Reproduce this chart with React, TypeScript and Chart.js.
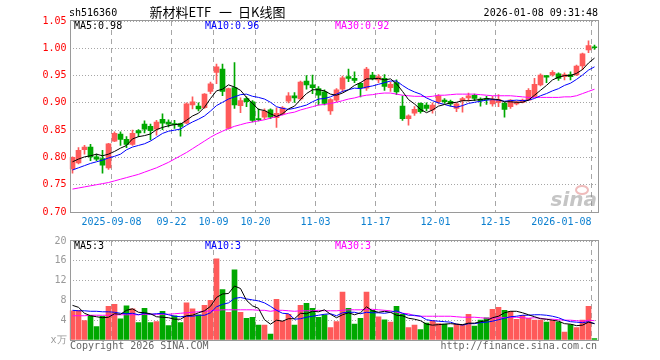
import React, { useEffect, useRef } from "react";
import { Chart, registerables } from "chart.js";

Chart.register(...registerables);

const dates: string[] = [
  "2025-08-28","2025-08-29","2025-09-01","2025-09-02","2025-09-03","2025-09-04","2025-09-05","2025-09-08","2025-09-09","2025-09-10",
  "2025-09-11","2025-09-12","2025-09-15","2025-09-16","2025-09-17","2025-09-18","2025-09-19","2025-09-22","2025-09-23","2025-09-24",
  "2025-09-25","2025-09-26","2025-09-29","2025-09-30","2025-10-09","2025-10-10","2025-10-13","2025-10-14","2025-10-15","2025-10-16",
  "2025-10-17","2025-10-20","2025-10-21","2025-10-22","2025-10-23","2025-10-24","2025-10-27","2025-10-28","2025-10-29","2025-10-30",
  "2025-10-31","2025-11-03","2025-11-04","2025-11-05","2025-11-06","2025-11-07","2025-11-10","2025-11-11","2025-11-12","2025-11-13",
  "2025-11-14","2025-11-17","2025-11-18","2025-11-19","2025-11-20","2025-11-21","2025-11-24","2025-11-25","2025-11-26","2025-11-27",
  "2025-11-28","2025-12-01","2025-12-02","2025-12-03","2025-12-04","2025-12-05","2025-12-08","2025-12-09","2025-12-10","2025-12-11",
  "2025-12-12","2025-12-15","2025-12-16","2025-12-17","2025-12-18","2025-12-19","2025-12-22","2025-12-23","2025-12-24","2025-12-25",
  "2025-12-26","2025-12-29","2025-12-30","2025-12-31","2026-01-05","2026-01-06","2026-01-07","2026-01-08",
];

const tickDates: string[] = ["2025-09-08","2025-09-22","2025-10-09","2025-10-20","2025-11-03","2025-11-17","2025-12-01","2025-12-15","2026-01-08"];
const tickLabels: string[] = ["2025-09-08","09-22","10-09","10-20","11-03","11-17","12-01","12-15","2026-01-08"];

const openP: number[] = [
  0.779,0.790,0.814,0.819,0.801,0.798,0.781,0.830,0.843,0.833,
  0.824,0.849,0.861,0.857,0.852,0.870,0.865,0.862,0.862,0.863,
  0.896,0.894,0.891,0.921,0.956,0.962,0.853,0.928,0.895,0.908,
  0.902,0.871,0.874,0.887,0.873,0.880,0.903,0.913,0.907,0.940,
  0.933,0.926,0.920,0.885,0.905,0.925,0.948,0.945,0.936,0.927,
  0.951,0.942,0.945,0.928,0.937,0.894,0.871,0.881,0.899,0.896,
  0.887,0.902,0.905,0.903,0.890,0.904,0.909,0.914,0.907,0.908,
  0.898,0.901,0.899,0.893,0.898,0.901,0.905,0.912,0.933,0.950,
  0.951,0.953,0.948,0.952,0.951,0.9675,0.997,1.002,
];
const highP: number[] = [
  0.801,0.818,0.822,0.824,0.806,0.813,0.826,0.847,0.847,0.838,
  0.850,0.851,0.867,0.861,0.868,0.880,0.869,0.868,0.863,0.900,
  0.911,0.900,0.917,0.938,0.971,0.971,0.927,0.974,0.909,0.911,
  0.904,0.889,0.889,0.889,0.891,0.893,0.919,0.919,0.940,0.950,
  0.951,0.930,0.924,0.908,0.926,0.949,0.962,0.957,0.937,0.965,
  0.956,0.952,0.952,0.938,0.942,0.913,0.878,0.893,0.900,0.900,
  0.900,0.915,0.908,0.905,0.900,0.910,0.918,0.916,0.909,0.912,
  0.912,0.915,0.901,0.906,0.903,0.907,0.926,0.945,0.953,0.950,
  0.959,0.955,0.955,0.957,0.969,0.991,1.0135,1.006,
];
const lowP: number[] = [
  0.771,0.788,0.806,0.794,0.794,0.771,0.778,0.829,0.822,0.818,
  0.822,0.838,0.845,0.832,0.841,0.851,0.856,0.853,0.839,0.862,
  0.889,0.885,0.890,0.917,0.935,0.913,0.852,0.890,0.882,0.893,
  0.865,0.867,0.870,0.871,0.855,0.878,0.900,0.901,0.905,0.925,
  0.917,0.896,0.896,0.879,0.902,0.920,0.939,0.937,0.911,0.923,
  0.942,0.937,0.923,0.921,0.915,0.868,0.859,0.877,0.881,0.885,
  0.881,0.898,0.899,0.894,0.884,0.883,0.903,0.904,0.894,0.897,
  0.894,0.893,0.874,0.890,0.896,0.900,0.904,0.911,0.931,0.937,
  0.949,0.941,0.942,0.942,0.950,0.961,0.992,0.998,
];
const closeP: number[] = [
  0.800,0.813,0.819,0.801,0.797,0.786,0.825,0.844,0.833,0.824,
  0.844,0.845,0.852,0.849,0.865,0.863,0.861,0.860,0.857,0.898,
  0.902,0.889,0.916,0.935,0.966,0.921,0.926,0.896,0.904,0.902,
  0.868,0.869,0.885,0.874,0.881,0.891,0.913,0.909,0.938,0.933,
  0.928,0.914,0.899,0.906,0.924,0.946,0.945,0.941,0.928,0.962,
  0.944,0.948,0.930,0.934,0.920,0.871,0.876,0.888,0.884,0.890,
  0.896,0.913,0.902,0.898,0.898,0.908,0.913,0.908,0.904,0.906,
  0.905,0.906,0.888,0.905,0.902,0.905,0.923,0.934,0.951,0.947,
  0.956,0.945,0.952,0.948,0.9675,0.990,1.005,1.001,
];
const volume: number[] = [
  5.9,6.0,3.9,4.9,2.7,4.8,6.8,7.2,4.3,6.9,
  6.3,3.5,6.4,3.5,3.7,5.8,2.9,4.9,3.5,7.5,
  6.3,5.1,7.0,8.0,16.4,10.2,5.6,14.2,5.6,4.4,
  4.6,3.0,3.0,1.2,8.2,3.8,5.2,3.0,7.0,7.4,
  6.4,4.6,5.1,2.5,3.7,9.7,6.4,3.2,4.4,9.7,
  6.0,4.7,4.1,3.6,6.8,5.2,2.5,3.0,2.1,3.4,
  3.9,3.3,3.2,2.5,3.2,3.1,5.2,2.8,4.0,4.5,
  6.2,6.6,6.0,5.8,4.2,5.0,4.4,4.0,4.0,3.6,
  3.9,3.6,1.6,3.1,2.5,4.0,6.8,0.3,
];
const ma5: number[] = [
  0.792,0.797,0.801,0.803,0.806,0.803,0.806,0.811,0.817,0.822,
  0.834,0.838,0.840,0.843,0.851,0.855,0.858,0.860,0.861,0.868,
  0.876,0.881,0.892,0.908,0.922,0.925,0.933,0.929,0.923,0.910,
  0.899,0.888,0.886,0.880,0.875,0.880,0.889,0.894,0.906,0.917,
  0.924,0.924,0.922,0.916,0.914,0.918,0.924,0.932,0.937,0.944,
  0.944,0.945,0.942,0.944,0.935,0.921,0.906,0.898,0.888,0.882,
  0.887,0.894,0.897,0.900,0.901,0.904,0.904,0.905,0.906,0.908,
  0.907,0.906,0.902,0.902,0.901,0.901,0.905,0.914,0.923,0.932,
  0.942,0.947,0.950,0.950,0.954,0.961,0.973,0.982,
];
const ma10: number[] = [
  0.777,0.781,0.785,0.789,0.792,0.795,0.799,0.802,0.806,0.814,
  0.819,0.822,0.825,0.830,0.837,0.844,0.848,0.850,0.852,0.859,
  0.865,0.870,0.876,0.885,0.895,0.901,0.907,0.911,0.915,0.916,
  0.912,0.910,0.907,0.901,0.893,0.890,0.888,0.890,0.893,0.896,
  0.902,0.907,0.908,0.911,0.916,0.921,0.924,0.927,0.926,0.929,
  0.931,0.934,0.937,0.940,0.940,0.932,0.925,0.920,0.916,0.909,
  0.904,0.900,0.897,0.894,0.892,0.895,0.899,0.901,0.903,0.905,
  0.906,0.905,0.903,0.904,0.905,0.904,0.905,0.908,0.913,0.917,
  0.922,0.926,0.932,0.936,0.943,0.951,0.960,0.966,
];
const ma30: number[] = [
  0.742,0.744,0.746,0.748,0.750,0.752,0.754,0.757,0.760,0.763,
  0.766,0.769,0.773,0.777,0.781,0.786,0.791,0.797,0.803,0.809,
  0.816,0.823,0.830,0.837,0.843,0.848,0.853,0.857,0.860,0.863,
  0.865,0.867,0.869,0.872,0.875,0.878,0.881,0.883,0.887,0.890,
  0.893,0.896,0.897,0.899,0.901,0.904,0.907,0.909,0.912,0.914,
  0.915,0.917,0.918,0.918,0.916,0.914,0.913,0.912,0.912,0.911,
  0.912,0.914,0.914,0.915,0.916,0.916,0.916,0.916,0.915,0.914,
  0.913,0.913,0.913,0.913,0.912,0.911,0.910,0.910,0.910,0.910,
  0.910,0.910,0.911,0.911,0.913,0.917,0.921,0.925,
];
const vma5: number[] = [
  7.0,6.6,5.4,4.9,4.7,4.5,4.6,5.3,5.2,6.0,
  6.3,5.6,5.5,5.3,4.7,4.6,4.5,4.2,4.2,4.9,
  5.0,5.5,5.9,6.8,8.6,9.3,9.4,10.9,10.4,8.0,
  6.9,6.4,4.1,3.2,4.0,3.8,4.3,4.3,5.4,5.3,
  5.8,5.7,6.1,5.2,4.5,5.1,5.5,5.1,5.5,6.7,
  5.9,5.6,5.8,5.6,5.0,4.9,4.4,4.2,3.9,3.2,
  3.0,3.1,3.2,3.3,3.2,3.1,3.4,3.4,3.7,3.9,
  4.5,4.8,5.5,5.8,5.8,5.5,5.1,4.7,4.3,4.2,
  4.0,3.8,3.3,3.2,2.9,3.0,3.6,3.3,
];
const vma10: number[] = [
  6.0,5.9,5.9,5.8,5.8,5.7,5.7,5.6,5.4,5.3,
  5.4,5.1,5.4,5.2,5.3,5.4,5.1,4.8,4.7,4.8,
  4.8,5.0,5.0,5.5,6.7,7.2,7.5,8.4,8.6,8.3,
  8.1,7.9,7.5,6.8,6.0,5.4,5.3,4.2,4.3,4.6,
  4.8,5.0,5.2,5.3,4.9,5.5,5.6,5.6,5.3,5.6,
  5.5,5.5,5.4,5.6,5.9,5.4,5.0,5.0,4.8,4.1,
  3.9,3.8,3.7,3.6,3.2,3.0,3.3,3.3,3.5,3.6,
  3.8,4.1,4.4,4.7,4.8,5.0,5.0,5.1,5.1,5.0,
  4.8,4.5,4.0,3.7,3.6,3.5,3.7,3.3,
];
const vma30: number[] = [
  4.9,4.9,4.9,5.0,5.0,5.0,5.0,5.1,5.1,5.1,
  5.1,5.1,5.2,5.2,5.2,5.2,5.2,5.3,5.4,5.5,
  5.6,5.7,5.8,5.9,6.0,6.1,6.1,6.1,6.1,6.1,
  6.1,6.0,6.0,5.8,6.0,6.0,5.9,5.8,5.9,5.9,
  5.9,6.0,5.9,5.9,5.9,6.0,6.1,6.1,6.1,6.2,
  6.2,6.1,6.0,5.9,5.6,5.4,5.3,4.9,4.8,4.8,
  4.8,4.8,4.8,4.8,4.7,4.6,4.6,4.6,4.5,4.4,
  4.4,4.5,4.5,4.6,4.6,4.5,4.4,4.5,4.4,4.2,
  4.2,4.1,4.0,4.0,3.9,3.8,4.0,3.9,
];

const RED = "#ff5a5a";
const GREEN = "#00a800";
const MONO = '"DejaVu Sans Mono", monospace';
const CJK = '"Noto Sans CJK SC", sans-serif';
const GRID = "#a6a6a6";
const FRAME = "#9a9a9a";

const candleColors = dates.map((_, i) => (closeP[i] >= openP[i] ? RED : GREEN));
const tickIndex = new Map<number, string>();
tickDates.forEach((d, k) => tickIndex.set(dates.indexOf(d), tickLabels[k]));
const trunc = (v: number, d: number) => {
  const f = Math.pow(10, d);
  return (Math.floor(v * f + 1e-9) / f).toFixed(d);
};

function xScale(showLabels: boolean): any {
  return {
    type: "category",
    offset: true,
    grid: {
      offset: true,
      drawTicks: false,
      lineWidth: 1,
      color: (c: any) => (c.type === "tick" && tickIndex.has(c.index) ? GRID : "rgba(0,0,0,0)"),
    },
    border: { display: false, dash: [5, 4] },
    ticks: {
      display: showLabels,
      autoSkip: false,
      maxRotation: 0,
      minRotation: 0,
      align: "inner",
      labelOffset: -3,
      padding: 4,
      color: "#0a7fd0",
      font: { family: MONO, size: 10 },
      callback: (_v: any, i: number) => tickIndex.get(i) ?? "",
    },
    afterFit: (s: any) => {
      s.height = 20;
    },
  };
}

function frame(ctx: CanvasRenderingContext2D, a: any) {
  const l = Math.ceil(a.left) + 0.5;
  const t = Math.round(a.top) - 0.5;
  const r = Math.round(a.right) + 0.5;
  const b = Math.round(a.bottom) + 0.5;
  ctx.save();
  ctx.strokeStyle = FRAME;
  ctx.lineWidth = 1;
  ctx.setLineDash([]);
  ctx.strokeRect(l, t, r - l, b - t);
  ctx.restore();
}

const line = (label: string, data: number[], color: string) => ({
  type: "line" as const,
  label,
  data,
  borderColor: color,
  backgroundColor: color,
  borderWidth: 1,
  pointRadius: 0,
  tension: 0,
  order: 0,
});

const pricePlugin = {
  id: "priceDecor",
  afterDraw(chart: any) {
    const ctx: CanvasRenderingContext2D = chart.ctx;
    const a = chart.chartArea;
    frame(ctx, a);
    ctx.save();
    ctx.textBaseline = "middle";
    ctx.textAlign = "left";
    ctx.fillStyle = "#000";
    ctx.font = `10px ${MONO}`;
    ctx.fillText("sh516360", 69, 13);
    ctx.font = `13px ${CJK}`;
    ctx.fillText("新材料ETF", 149.5, 12);
    ctx.fillText("一", 219, 12);
    ctx.fillText("日K线图", 238, 12);
    ctx.font = `10px ${MONO}`;
    ctx.textAlign = "right";
    ctx.fillText("2026-01-08 09:31:48", 598, 13);
    ctx.textAlign = "left";
    const n = dates.length - 1;
    ctx.fillStyle = "#000";
    ctx.fillText(`MA5:${trunc(ma5[n], 2)}`, 74, 26.5);
    ctx.fillStyle = "#0000ff";
    ctx.fillText(`MA10:${trunc(ma10[n], 2)}`, 205, 26.5);
    ctx.fillStyle = "#ff00ff";
    ctx.fillText(`MA30:${trunc(ma30[n], 2)}`, 335, 26.5);
    // watermark
    ctx.globalAlpha = 0.5;
    ctx.fillStyle = "#8c8c8c";
    ctx.font = `italic bold 20px "DejaVu Sans", sans-serif`;
    ctx.textAlign = "right";
    ctx.textBaseline = "alphabetic";
    ctx.fillText("sina", 597, 206);
    ctx.strokeStyle = "#e07a7a";
    ctx.lineWidth = 2;
    ctx.beginPath();
    ctx.ellipse(582, 190, 6, 4, 0, 0, Math.PI * 2);
    ctx.stroke();
    ctx.restore();
  },
};

const volPlugin = {
  id: "volDecor",
  afterDraw(chart: any) {
    const ctx: CanvasRenderingContext2D = chart.ctx;
    const a = chart.chartArea;
    frame(ctx, a);
    ctx.save();
    ctx.textBaseline = "middle";
    ctx.textAlign = "left";
    ctx.font = `10px ${MONO}`;
    const n = dates.length - 1;
    ctx.fillStyle = "#000";
    ctx.fillText(`MA5:${trunc(vma5[n], 0)}`, 74, 14.5);
    ctx.fillStyle = "#0000ff";
    ctx.fillText(`MA10:${trunc(vma10[n], 0)}`, 205, 14.5);
    ctx.fillStyle = "#ff00ff";
    ctx.fillText(`MA30:${trunc(vma30[n], 0)}`, 335, 14.5);
    ctx.fillStyle = "#666";
    ctx.fillText("Copyright 2026 SINA.COM", 70, 114.5);
    ctx.textAlign = "right";
    ctx.fillText("http://finance.sina.com.cn", 597, 114.5);
    ctx.restore();
  },
};

export default function App() {
  const priceRef = useRef<HTMLCanvasElement>(null);
  const volRef = useRef<HTMLCanvasElement>(null);

  useEffect(() => {
    Chart.defaults.font.family = MONO;
    const price = new Chart(priceRef.current as HTMLCanvasElement, {
      type: "bar",
      data: {
        labels: dates,
        datasets: [
          line("MA5", ma5, "#000000"),
          line("MA10", ma10, "#0000ff"),
          line("MA30", ma30, "#ff00ff"),
          {
            type: "bar",
            label: "body",
            data: dates.map((_, i) => [openP[i], closeP[i]]) as any,
            backgroundColor: candleColors,
            barThickness: 5,
            grouped: false,
            minBarLength: 1,
            borderWidth: 0,
            order: 1,
          },
          {
            type: "bar",
            label: "wick",
            data: dates.map((_, i) => [lowP[i], highP[i]]) as any,
            backgroundColor: candleColors,
            barThickness: 1,
            grouped: false,
            minBarLength: 1,
            borderWidth: 0,
            order: 2,
          },
        ] as any,
      },
      options: {
        responsive: false,
        animation: false,
        events: [],
        layout: { padding: { left: 0, right: 62.5, top: 21, bottom: 0 } },
        plugins: { legend: { display: false }, tooltip: { enabled: false } },
        scales: {
          x: xScale(true),
          y: {
            min: 0.7,
            max: 1.05,
            afterFit: (s: any) => {
              s.width = 69.5;
            },
            grid: { drawTicks: false, color: GRID, lineWidth: 1 },
            border: { display: false, dash: [1, 2] },
            ticks: {
              stepSize: 0.05,
              padding: 3,
              color: "#ff0000",
              font: { family: MONO, size: 10 },
              callback: (v: any) => Number(v).toFixed(2),
            },
          } as any,
        },
      },
      plugins: [pricePlugin],
    });

    const vol = new Chart(volRef.current as HTMLCanvasElement, {
      type: "bar",
      data: {
        labels: dates,
        datasets: [
          line("MA5", vma5, "#000000"),
          line("MA10", vma10, "#0000ff"),
          line("MA30", vma30, "#ff00ff"),
          {
            type: "bar",
            label: "volume",
            data: volume,
            backgroundColor: candleColors,
            barThickness: 5,
            grouped: false,
            borderWidth: 0,
            order: 1,
          },
        ] as any,
      },
      options: {
        responsive: false,
        animation: false,
        events: [],
        layout: { padding: { left: 0, right: 62.5, top: 8, bottom: 0 } },
        plugins: { legend: { display: false }, tooltip: { enabled: false } },
        scales: {
          x: xScale(false),
          y: {
            min: 0,
            max: 20,
            afterFit: (s: any) => {
              s.width = 69.5;
            },
            grid: { drawTicks: false, color: GRID, lineWidth: 1 },
            border: { display: false, dash: [1, 2] },
            ticks: {
              stepSize: 4,
              padding: 3,
              color: "#999999",
              font: { family: MONO, size: 10 },
              callback: (v: any) => (Number(v) === 0 ? "x万" : String(v)),
            },
          } as any,
        },
      },
      plugins: [volPlugin],
    });

    return () => {
      price.destroy();
      vol.destroy();
    };
  }, []);

  return (
    <div style={{ position: "absolute", left: 0, top: 0, width: 660, height: 360, background: "#ffffff" }}>
      <canvas ref={priceRef} width={660} height={232} style={{ position: "absolute", left: 0, top: 0 }} />
      <canvas ref={volRef} width={660} height={128} style={{ position: "absolute", left: 0, top: 232 }} />
    </div>
  );
}
